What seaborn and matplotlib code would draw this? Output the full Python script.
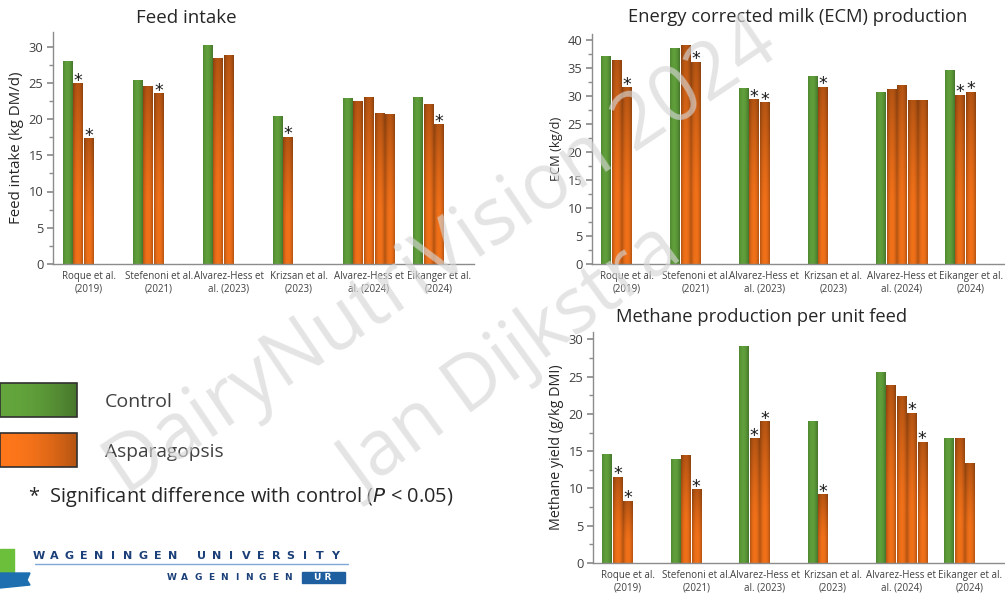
import numpy as np
import pandas as pd
import matplotlib.pyplot as plt
import seaborn as sns
from matplotlib.colors import to_rgb
from matplotlib.patches import Rectangle, Polygon
from matplotlib.ticker import MultipleLocator

sns.set_theme(style="white")
plt.rcParams['font.family'] = ['Open Sans', 'DejaVu Sans']

# ---- data ----
studies = ["Roque et al.\n(2019)", "Stefenoni et al.\n(2021)", "Alvarez-Hess et\nal. (2023)",
           "Krizsan et al.\n(2023)", "Alvarez-Hess et\nal. (2024)", "Eikanger et al.\n(2024)"]

# first value of every study = control, the rest = Asparagopsis treatments
feed_intake = [[27.9, 24.9, 17.3], [25.3, 24.5, 23.5], [30.1, 28.4, 28.8],
               [20.3, 17.5], [22.8, 22.4, 22.9, 20.8, 20.6], [22.9, 22.0, 19.2]]
feed_sig = [[0, 1, 1], [0, 0, 1], [0, 0, 0], [0, 1], [0, 0, 0, 0, 0], [0, 0, 1]]

ecm = [[37.0, 36.2, 31.4], [38.4, 39.0, 36.0], [31.3, 29.3, 28.8],
       [33.4, 31.5], [30.6, 31.1, 31.8, 29.2, 29.2], [34.5, 30.1, 30.6]]
ecm_sig = [[0, 0, 1], [0, 0, 1], [0, 1, 1], [0, 1], [0, 0, 0, 0, 0], [0, 1, 1]]

methane = [[14.5, 11.5, 8.3], [13.9, 14.4, 9.8], [29.0, 16.7, 19.0],
           [19.0, 9.2], [25.5, 23.8, 22.4, 20.1, 16.2], [16.7, 16.7, 13.3]]
methane_sig = [[0, 1, 1], [0, 0, 1], [0, 1, 1], [0, 1], [0, 0, 0, 1, 1], [0, 0, 0]]

GREEN = "#5f9e3a"
ORANGE = "#f27119"
N_SLOTS = 5
GROUP_WIDTH = 0.76
W, H = 1005, 596


def to_long(values, sig):
    rows = []
    for i, (vals, flags) in enumerate(zip(values, sig)):
        for j, (v, s) in enumerate(zip(vals, flags)):
            rows.append({"study": studies[i], "slot": f"s{j}", "value": v, "sig": s})
    return pd.DataFrame(rows)


def shade_bar(ax, x0, y0, w, h, green):
    """Excel-like gradient fill for one bar"""
    xs = np.linspace(-1, 1, 24)
    ys = np.linspace(0, 1, 80)
    if green:
        base = np.array(to_rgb(GREEN))
        side = 1 - 0.20 * xs ** 2 - 0.06 * xs
        vert = np.ones_like(ys)
    else:
        base = np.array(to_rgb(ORANGE))
        side = 1 - 0.25 * xs ** 2
        vert = 1 - 0.25 * np.clip((ys - 0.35) / 0.65, 0, 1) ** 1.3
    img = base[None, None, :] * side[None, :, None] * vert[:, None, None]
    ax.imshow(np.clip(img, 0, 1), extent=(x0, x0 + w, y0, y0 + h), origin='lower',
              aspect='auto', interpolation='bilinear', zorder=2)


def px_axes(fig, left, top, right, bottom):
    return fig.add_axes([left / W, 1 - bottom / H, (right - left) / W, (bottom - top) / H])


def draw_panel(ax, values, sig, ymax, ylabel, ylabel_size):
    df = to_long(values, sig)
    pal = {f"s{j}": (GREEN if j == 0 else ORANGE) for j in range(N_SLOTS)}
    sns.barplot(data=df, x="study", y="value", hue="slot", order=studies,
                hue_order=[f"s{j}" for j in range(N_SLOTS)], palette=pal,
                width=GROUP_WIDTH, gap=0.1, saturation=1, errorbar=None,
                legend=False, linewidth=0, ax=ax)
    step = GROUP_WIDTH / N_SLOTS
    for p in list(ax.patches):
        h = p.get_height()
        if not np.isfinite(h) or h <= 0:
            continue
        xc = p.get_x() + p.get_width() / 2
        cat = int(round(xc))
        slot = int(round((xc - cat) / step + (N_SLOTS - 1) / 2))
        shade_bar(ax, p.get_x(), 0, p.get_width(), h, slot == 0)
        p.set_visible(False)
        if sig[cat][slot]:
            ax.annotate("*", (xc, h), xytext=(0, -1.5), textcoords='offset points',
                        ha='center', va='baseline', fontsize=12.5, color='#1a1a1a',
                        family='DejaVu Sans')
    ax.set_xlim(-0.51, 5.5)
    ax.set_ylim(0, ymax)
    ax.yaxis.set_major_locator(MultipleLocator(5))
    ax.yaxis.set_minor_locator(MultipleLocator(2.5))
    ax.set_xticks(range(len(studies)))
    ax.set_xticklabels(studies, fontsize=7.0, color='#404040', linespacing=1.25)
    ax.tick_params(axis='x', length=0, pad=5)
    ax.tick_params(axis='y', which='both', left=True, direction='out', color='#8c8c8c',
                   labelsize=9.3, labelcolor='#404040', pad=3)
    ax.tick_params(axis='y', which='major', length=4)
    ax.tick_params(axis='y', which='minor', length=3)
    for s in ['top', 'right']:
        ax.spines[s].set_visible(False)
    for s in ['left', 'bottom']:
        ax.spines[s].set_color('#8c8c8c')
        ax.spines[s].set_linewidth(1)
    ax.set_xlabel("")
    ax.set_ylabel(ylabel, fontsize=ylabel_size, color='#262626', labelpad=3)
    ax.set_facecolor('none')


fig = plt.figure(figsize=(W / 100, H / 100), dpi=100)

ax1 = px_axes(fig, 53, 32, 474, 264)
draw_panel(ax1, feed_intake, feed_sig, 32, "Feed intake (kg DM/d)", 10.8)

ax2 = px_axes(fig, 592, 34, 1005, 264)
draw_panel(ax2, ecm, ecm_sig, 41, "ECM (kg/d)", 9.3)

ax3 = px_axes(fig, 593, 332, 1004, 563)
draw_panel(ax3, methane, methane_sig, 31, "Methane yield (g/kg DMI)", 10.3)

# overlay in pixel coordinates: titles, legend, logo, watermark
ov = fig.add_axes([0, 0, 1, 1], zorder=10)
ov.patch.set_alpha(0)

ov.text(186, 18, "Feed intake", fontsize=13.5, ha='center', va='center', color='#262626')
ov.text(798, 17, "Energy corrected milk (ECM) production", fontsize=13.2, ha='center',
        va='center', color='#262626')
ov.text(762, 317, "Methane production per unit feed", fontsize=13.2, ha='center',
        va='center', color='#262626')


def legend_box(y0, color):
    xs = np.linspace(0, 1, 40)
    base = np.array(to_rgb(color))
    side = 1.05 - 0.3 * xs ** 2
    img = np.clip(base[None, None, :] * side[None, :, None], 0, 1)
    ov.imshow(img, extent=(0, 77, y0 + 34, y0), aspect='auto', interpolation='bilinear', zorder=3)
    ov.add_patch(Rectangle((0, y0), 77, 34, fill=False, edgecolor='#303030', lw=1.2, zorder=4))


legend_box(383, GREEN)
legend_box(433, ORANGE)
ov.set_xlim(0, W)
ov.set_ylim(H, 0)
ov.axis('off')
ov.text(105, 402, "Control", fontsize=14, va='center', color='#404040')
ov.text(105, 452, "Asparagopsis", fontsize=13.8, va='center', color='#404040')
ov.text(28, 497, "*  Significant difference with control ($\\it{P}$ < 0.05)", fontsize=14.4,
        va='center', color='#262626')

# Wageningen logo
ov.add_patch(Rectangle((0, 549), 14, 24, color='#6cbf3a', zorder=3))
ov.add_patch(Polygon([(0, 573), (30, 573), (27, 580), (30, 585), (0, 588)],
                     closed=True, color='#1e6fb0', zorder=3))
line1 = "WAGENINGEN UNIVERSITY"
for i, ch in enumerate(line1):
    ov.text(39 + i * 14.8, 556, ch, fontsize=8, fontweight='bold', color='#1b3f78',
            ha='center', va='center', family='DejaVu Sans')
ov.plot([35, 348], [564, 564], color='#7fa8d6', lw=1)
line2 = "WAGENINGEN"
for i, ch in enumerate(line2):
    ov.text(172 + i * 12.9, 578, ch, fontsize=6.5, fontweight='bold', color='#1b3f78',
            ha='center', va='center', family='DejaVu Sans')
ov.add_patch(Rectangle((302, 572), 43, 11, color='#1f5fa0', zorder=3))
ov.text(323, 578, "U R", fontsize=6.5, fontweight='bold', color='white',
        ha='center', va='center', family='DejaVu Sans', zorder=4)

# watermark
ov.text(442, 258, "DairyNutriVision 2024", fontsize=56, rotation=34, ha='center',
        va='center', color='#d6d6d6', alpha=0.65, rotation_mode='anchor')
ov.text(512, 362, "Jan Dijkstra", fontsize=55, rotation=36, ha='center',
        va='center', color='#d6d6d6', alpha=0.65, rotation_mode='anchor')

fig.savefig("out.png", dpi=100)
